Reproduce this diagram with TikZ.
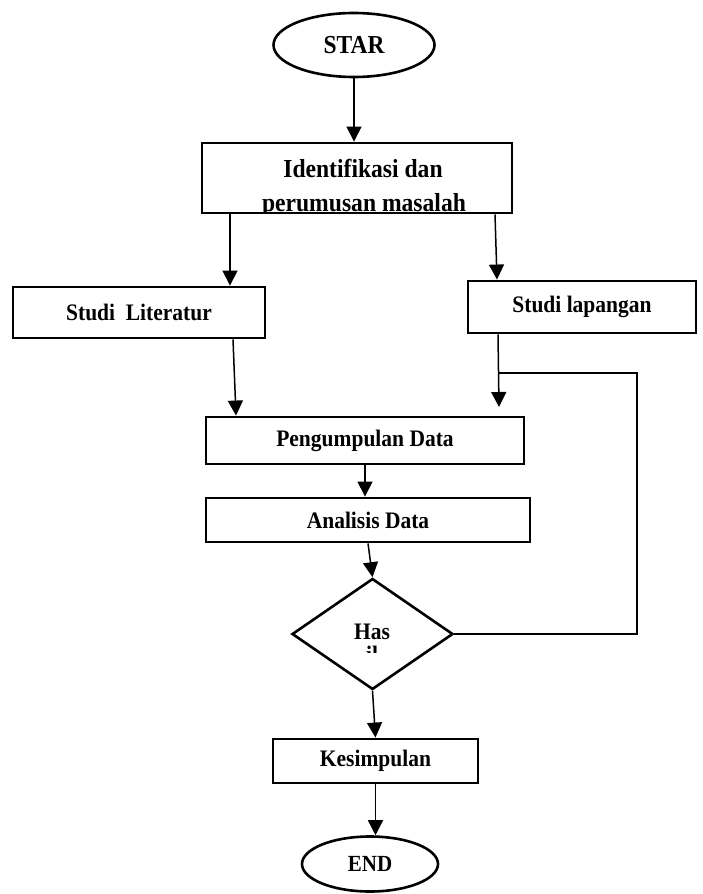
\documentclass[tikz,border=0pt]{standalone}
\usepackage{fontspec}
\usepackage{graphicx}
\setmainfont{Liberation Serif}
\usetikzlibrary{arrows.meta,shapes.geometric,calc}
\newcommand{\vst}[1]{\scalebox{1}[1.1]{#1}}
\begin{document}
\begin{tikzpicture}[x=1pt,y=-1pt,
  box/.style={draw,line width=2.9pt,rectangle,inner sep=0pt,font=\fontsize{21.5}{24}\selectfont\bfseries},
  term/.style={draw,line width=2.6pt,ellipse,inner sep=0pt},
  bigtxt/.style={font=\fontsize{23.6}{27}\selectfont\bfseries,inner sep=0pt},
  smtxt/.style={font=\fontsize{21.5}{24}\selectfont\bfseries,inner sep=0pt},
  arr/.style={line width=1.5pt,-{Triangle[width=15pt,length=15pt]}},
  ln/.style={line width=1.5pt},
]
\useasboundingbox[fill=white] (0,0) rectangle (703,894);

% terminals
\node[term,minimum width=161pt,minimum height=64pt,font=\fontsize{23.5}{26}\selectfont\bfseries] (start) at (354,45) {\vst{STAR}};
\node[term,minimum width=136pt,minimum height=55pt,font=\fontsize{21}{24}\selectfont\bfseries] (stop) at (370,864) {\vst{END}};

% identification box with clipped text
\node[box,minimum width=310pt,minimum height=70pt] (idf) at (357,178) {};
\begin{scope}
  \clip ([shift={(1.5,-1.5)}]idf.south west) rectangle ([shift={(-1.5,1.5)}]idf.north east);
  \node[bigtxt,anchor=base] (idf1) at (363,177) {\vst{Identifikasi dan}};
  \node[bigtxt,anchor=base] (idf2) at (364,211) {\vst{perumusan masalah}};
\end{scope}

% process boxes
\node[box,minimum width=252pt,minimum height=51pt] (sl) at (139,312.5) {\vst{Studi\ \ Literatur}};
\node[box,minimum width=228pt,minimum height=52pt] (slap) at (582,307) {\vst{Studi lapangan}};
\node[box,minimum width=318pt,minimum height=47pt] (pd) at (365,440.5) {\vst{Pengumpulan Data}};
\node[box,minimum width=324pt,minimum height=44pt] (ad) at (368,520) {\vst{Analisis Data}};
\node[box,minimum width=205pt,minimum height=44pt] (kes) at (375.5,761) {\vst{Kesimpulan}};

% decision
\node[draw,line width=2.6pt,diamond,inner sep=0pt,minimum width=161pt,minimum height=111pt] (dia) at (372.5,634) {};
\node[smtxt,anchor=base] (has) at (372,639) {\vst{Has}};
\begin{scope}
  \clip (340,645) rectangle (405,652);
  \node[smtxt,anchor=base] (hasil) at (372,662) {\vst{il}};
\end{scope}

% helper coordinates
\coordinate (tipR) at (499,407);
\coordinate (fb) at (637,373);

% connectors
\draw[arr] (start.south) -- (start.south |- idf.north);
\draw[arr] ([xshift=-127pt]idf.south) -- ([xshift=-127pt]idf.south |- sl.north);
\draw[arr] ([xshift=138pt]idf.south) -- ([xshift=-85pt]slap.north);
\draw[arr] ([xshift=94pt]sl.south) -- ([xshift=-129pt]pd.north);
\draw[arr] ([xshift=-84pt]slap.south) -- (tipR);
\draw[ln] (dia.east) -- (dia.east -| fb) -- (fb) -- (fb -| tipR);
\draw[arr] (pd.south) -- (pd.south |- ad.north);
\draw[arr] (ad.south) -- (dia.north);
\draw[arr] (dia.south) -- (kes.north);
\draw[arr] (kes.south) -- (kes.south |- stop.north);
\end{tikzpicture}
\end{document}
